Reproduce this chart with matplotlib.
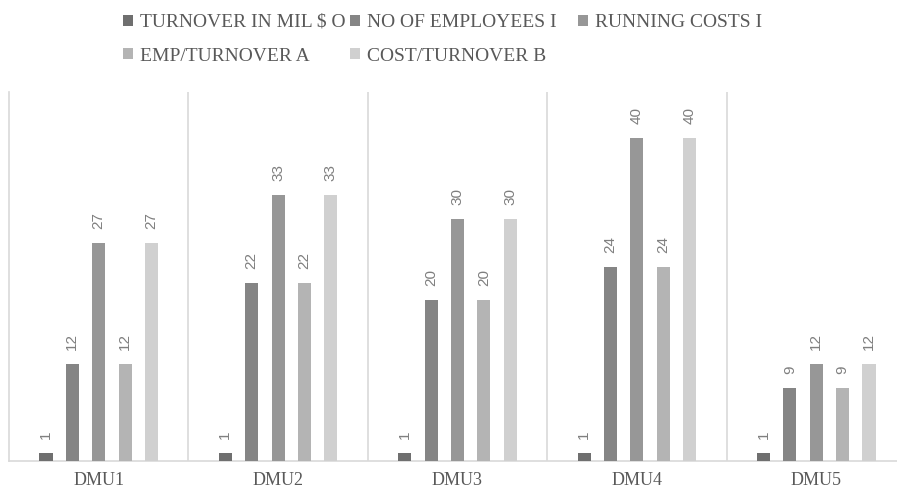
import numpy as np
import matplotlib.pyplot as plt

# data
dmus = ['DMU1', 'DMU2', 'DMU3', 'DMU4', 'DMU5']
series_names = ['TURNOVER IN MIL $ O', 'NO OF EMPLOYEES I', 'RUNNING COSTS I',
                'EMP/TURNOVER A', 'COST/TURNOVER B']
turnover = [1, 1, 1, 1, 1]
employees = [12, 22, 20, 24, 9]
running_costs = [27, 33, 30, 40, 12]
emp_turnover = [12, 22, 20, 24, 9]
cost_turnover = [27, 33, 30, 40, 12]

colors = ['#6f6f6f', '#858585', '#979797', '#b4b4b4', '#d0d0d0']
text_gray = '#595959'
line_gray = '#d9d9d9'

def main():
    values = [turnover, employees, running_costs, emp_turnover, cost_turnover]
    x = np.arange(len(dmus))
    step = 0.147
    width = 0.073

    fig = plt.figure(figsize=(8.97, 5.0), dpi=100)
    ax = fig.add_axes([9 / 897, 39 / 500, 897 / 897, 369 / 500])

    handles = []
    for i, (vals, name, c) in enumerate(zip(values, series_names, colors)):
        bars = ax.bar(x + (i - 2) * step, vals, width, color=c, label=name, zorder=3)
        handles.append(bars)
        for b, v in zip(bars, vals):
            ax.annotate(str(v), (b.get_x() + b.get_width() / 2, b.get_height()),
                        xytext=(0, 10), textcoords='offset points',
                        rotation=90, ha='center', va='bottom',
                        fontsize=11, color='#7f7f7f', family='Liberation Sans')

    # group separators
    for xs in np.arange(0.5, len(dmus) - 0.5, 1.0):
        ax.axvline(xs, color=line_gray, linewidth=1.2, zorder=1)

    ax.set_xlim(-0.5, len(dmus) - 0.5)
    ax.set_ylim(0, 45.7)
    ax.set_yticks([])
    ax.set_xticks(x)
    ax.set_xticklabels(dmus, family='Liberation Serif', fontsize=13, color=text_gray)
    ax.tick_params(axis='x', length=0, pad=8)
    for s in ['top', 'right']:
        ax.spines[s].set_visible(False)
    for s in ['left', 'bottom']:
        ax.spines[s].set_color(line_gray)
        ax.spines[s].set_linewidth(1.2)

    # legend laid out row by row in three fixed columns, like the original
    columns = [[0, 3], [1, 4], [2]]
    col_x = [123, 350, 578]
    for idx, cx in zip(columns, col_x):
        leg = fig.legend([handles[k] for k in idx], [series_names[k] for k in idx],
                         loc='upper left', bbox_to_anchor=(cx / 897, 1 - 14 / 500),
                         frameon=False, handlelength=0.5, handleheight=0.5,
                         handletextpad=0.35, labelspacing=0.85,
                         borderpad=0, borderaxespad=0,
                         prop={'family': 'Liberation Serif', 'size': 14})
        for t in leg.get_texts():
            t.set_color(text_gray)

    fig.savefig('out.png', dpi=100)

if __name__ == "__main__":
    main()
